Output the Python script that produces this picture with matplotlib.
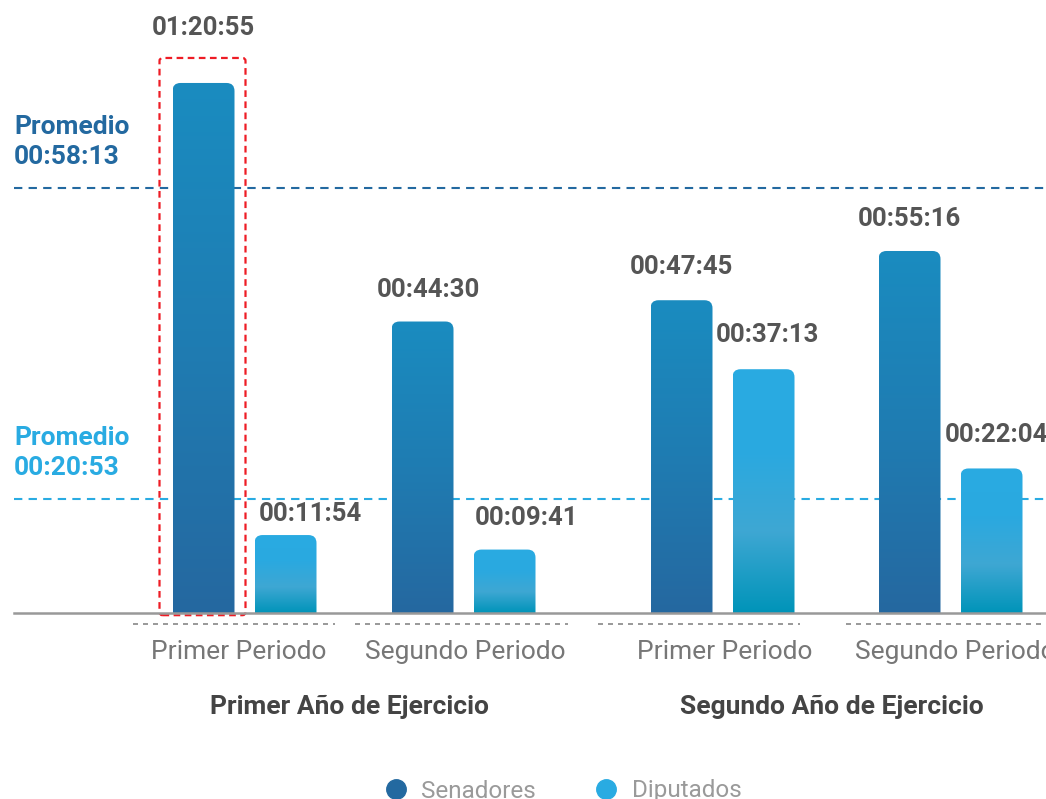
import numpy as np
import matplotlib.pyplot as plt
from matplotlib.patches import FancyBboxPatch
from matplotlib.lines import Line2D
from matplotlib.colors import LinearSegmentedColormap

# datos (segundos)
periodos = ["Primer Periodo", "Segundo Periodo", "Primer Periodo", "Segundo Periodo"]
anios = ["Primer Año de Ejercicio", "Segundo Año de Ejercicio"]
senadores = [4855, 2670, 2865, 3316]      # 01:20:55, 00:44:30, 00:47:45, 00:55:16
diputados = [714, 581, 2233, 1324]        # 00:11:54, 00:09:41, 00:37:13, 00:22:04
promedio_labels = ["00:58:13", "00:20:53"]
promedio_nivel = [3893, 1044]             # posicion de las lineas

plt.rcParams["font.family"] = ["Roboto", "DejaVu Sans"]

def hms(s):
    return "%02d:%02d:%02d" % (s // 3600, (s % 3600) // 60, s % 60)

fig = plt.figure(figsize=(10.46, 7.99), dpi=100)
ax = fig.add_axes([0, 186 / 799, 1, 613 / 799])
ax.set_xlim(0, 1046)
ax.set_ylim(0, 5615)
ax.axis("off")
px = 5615 / 613  # segundos por pixel

c_sen, c_dip = "#2369a0", "#29abe2"
cm_sen = LinearSegmentedColormap.from_list("sen", ["#2568a0", "#1f7cb2", "#1a8cc0"])
cm_dip = LinearSegmentedColormap.from_list("dip", ["#0094b9", "#3ea7d3", "#2aa9e0", "#29abe2"])

periodo_x = [244.5, 463.5, 722.5, 950.5]
bw = 62
off = 41
lbl_dx_sen = [0, 6, 0, 0]
lbl_dx_dip = [25, 22, 4, 5]
lbl_dy_sen = [55, 32, 33, 32]
lbl_dy_dip = [21, 32, 34, 33]

def grad_bar(xc, h, cmap):
    patch = FancyBboxPatch((xc - bw / 2, -300), bw, h + 300,
                           boxstyle="round,pad=0,rounding_size=8",
                           mutation_aspect=px, fc="none", ec="none")
    ax.add_patch(patch)
    grad = np.linspace(0, 1, 256).reshape(-1, 1)
    im = ax.imshow(grad, cmap=cmap, origin="lower", aspect="auto",
                   extent=[xc - bw / 2, xc + bw / 2, 0, h], zorder=2)
    im.set_clip_path(patch)

for i, xc in enumerate(periodo_x):
    grad_bar(xc - off, senadores[i], cm_sen)
    grad_bar(xc + off, diputados[i], cm_dip)
    ax.annotate(hms(senadores[i]), (xc - off, senadores[i]),
                xytext=(lbl_dx_sen[i], lbl_dy_sen[i]), textcoords="offset pixels",
                ha="center", va="center", fontsize=18.5, fontweight="bold", color="#555555")
    ax.annotate(hms(diputados[i]), (xc + off, diputados[i]),
                xytext=(lbl_dx_dip[i], lbl_dy_dip[i]), textcoords="offset pixels",
                ha="center", va="center", fontsize=18.5, fontweight="bold", color="#555555",
                annotation_clip=False)

ax.set_xlim(0, 1046)
ax.set_ylim(0, 5615)

# caja resaltada
box = FancyBboxPatch((periodo_x[0] - off - 44, -20), 86, senadores[0] + 25 * px + 20,
                     boxstyle="round,pad=0,rounding_size=3", mutation_aspect=px,
                     fc="none", ec="#ee1c25", lw=1.6, ls=(0, (3, 2)), zorder=3,
                     clip_on=False)
ax.add_patch(box)

# lineas de promedio
for nivel, lab, col in zip(promedio_nivel, promedio_labels, [c_sen, c_dip]):
    ax.plot([14, 1046], [nivel, nivel], color=col, lw=1.5, ls=(0, (4, 3)), zorder=1)
    ax.annotate("Promedio\n" + lab, (14, nivel), xytext=(0, 19), textcoords="offset pixels",
                ha="left", va="bottom", fontsize=19, fontweight="bold", color=col,
                linespacing=1.3)

# eje base
ax.plot([14, 1046], [0, 0], color="#999999", lw=1.8, zorder=4, clip_on=False)

# etiquetas de periodos
seg = [(133, 335), (355, 568), (598, 800), (846, 1046)]
lbl_x = [239, 465, 725, 955]
for i, xc in enumerate(periodo_x):
    ax.plot(seg[i], [-11 * px, -11 * px], color="#888888", lw=1.2, ls=(0, (3, 3)),
            clip_on=False)
    ax.text(lbl_x[i], -39 * px, periodos[i],
            ha="center", va="center", fontsize=19, color="#777777")

for j, anio in enumerate(anios):
    xc = (periodo_x[2 * j] + periodo_x[2 * j + 1]) / 2 - 5
    ax.text(xc, -94 * px, anio, ha="center", va="center", fontsize=19,
            fontweight="bold", color="#444444")

# leyenda
handles = [Line2D([], [], marker="o", ls="none", color=c_sen, markersize=14),
           Line2D([], [], marker="o", ls="none", color=c_dip, markersize=14)]
leg = fig.legend(handles, ["Senadores", "Diputados"], loc="center",
                 bbox_to_anchor=(0.532, 8 / 799), ncol=2, frameon=False,
                 fontsize=17.5, handletextpad=0.05, columnspacing=1.9)
for t in leg.get_texts():
    t.set_color("#9a9a9a")

fig.savefig("out.png", dpi=100)
